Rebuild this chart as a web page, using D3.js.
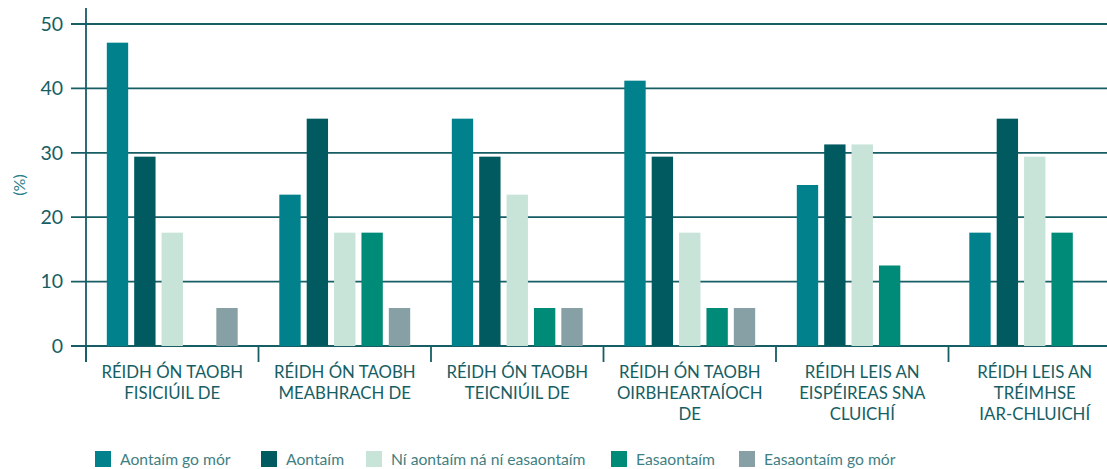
<!DOCTYPE html>
<html><head><meta charset="utf-8">
<script src="https://cdn.jsdelivr.net/npm/d3@7"></script>
<style>body{margin:0;background:#fff;}svg{display:block;}</style>
</head><body>
<svg id="c" width="1107" height="469"></svg>
<script>
const categories = [
  ["RÉIDH ÓN TAOBH","FISICIÚIL DE"],
  ["RÉIDH ÓN TAOBH","MEABHRACH DE"],
  ["RÉIDH ÓN TAOBH","TEICNIÚIL DE"],
  ["RÉIDH ÓN TAOBH","OIRBHEARTAÍOCH","DE"],
  ["RÉIDH LEIS AN","EISPÉIREAS SNA","CLUICHÍ"],
  ["RÉIDH LEIS AN","TRÉIMHSE","IAR-CHLUICHÍ"]
];
const seriesNames = ["Aontaím go mór","Aontaím","Ní aontaím ná ní easaontaím","Easaontaím","Easaontaím go mór"];
const aontaimGoMor   = [47.1, 23.5, 35.3, 41.2, 25.0, 17.6];
const aontaim        = [29.4, 35.3, 29.4, 29.4, 31.3, 35.3];
const neodrach       = [17.6, 17.6, 23.5, 17.6, 31.3, 29.4];
const easaontaim     = [0,    17.6, 5.9,  5.9,  12.5, 17.6];
const easaontaimGoMor= [5.9,  5.9,  5.9,  5.9,  0,    0];
const yTicks = [0,10,20,30,40,50];
const colors = ["#00818c","#005a60","#c8e4d8","#008a78","#87a0a5"];

(function(){
const series = [aontaimGoMor, aontaim, neodrach, easaontaim, easaontaimGoMor];
const svg = d3.select("#c");
const mLeft = 86, mRight = 1121, mTop = 24, mBottom = 346;
const font = "Lato, 'Open Sans', sans-serif";
const ink = "#165e64";

const y = d3.scaleLinear().domain([0,50]).range([mBottom, mTop]);
const x0 = d3.scaleBand().domain(d3.range(categories.length)).range([mLeft, mRight]).padding(0);
const x1 = d3.scaleBand().domain(d3.range(seriesNames.length)).range([0, x0.bandwidth()]).paddingInner(0.22).paddingOuter(0.76);

svg.append("g").selectAll("line").data(yTicks).join("line")
  .attr("x1", 71).attr("x2", 1107)
  .attr("y1", d => y(d)).attr("y2", d => y(d))
  .attr("stroke", ink).attr("stroke-width", 1.8);

svg.append("g").selectAll("text").data(yTicks).join("text")
  .attr("x", 63).attr("y", d => y(d)).attr("dy", "0.35em")
  .attr("text-anchor", "end").attr("font-family", font).attr("font-size", 19.5)
  .attr("fill", ink).text(d => d);

svg.append("text").attr("transform", "translate(25,185) rotate(-90)")
  .attr("text-anchor", "middle").attr("font-family", font).attr("font-size", 16)
  .attr("fill", "#2a8088").text("(%)");

const g = svg.append("g");
categories.forEach((c, i) => {
  series.forEach((s, j) => {
    if (s[i] <= 0) return;
    g.append("rect")
      .attr("x", x0(i) + x1(j)).attr("width", x1.bandwidth())
      .attr("y", y(s[i])).attr("height", y(0) - y(s[i]))
      .attr("fill", colors[j]);
  });
});

svg.append("line").attr("x1", mLeft).attr("x2", mLeft).attr("y1", 8).attr("y2", 362)
  .attr("stroke", ink).attr("stroke-width", 1.8);
svg.append("g").selectAll("line").data(d3.range(categories.length)).join("line")
  .attr("x1", d => x0(d)).attr("x2", d => x0(d)).attr("y1", mBottom).attr("y2", 362)
  .attr("stroke", ink).attr("stroke-width", 1.8);

categories.forEach((lines, i) => {
  const t = svg.append("text").attr("text-anchor", "middle")
    .attr("font-family", font).attr("font-size", 16.8).attr("fill", ink);
  lines.forEach((ln, k) => {
    t.append("tspan").attr("x", x0(i) + x0.bandwidth()/2).attr("y", 378 + k*21).text(ln);
  });
});

const legX = [95, 261, 366, 611, 739];
const leg = svg.append("g");
seriesNames.forEach((n, j) => {
  leg.append("rect").attr("x", legX[j]).attr("y", 451).attr("width", 16).attr("height", 16).attr("fill", colors[j]);
  leg.append("text").attr("x", legX[j] + 25).attr("y", 465)
    .attr("font-family", font).attr("font-size", 15.7).attr("fill", "#3f7f84").text(n);
});
})();
</script>
</body></html>
